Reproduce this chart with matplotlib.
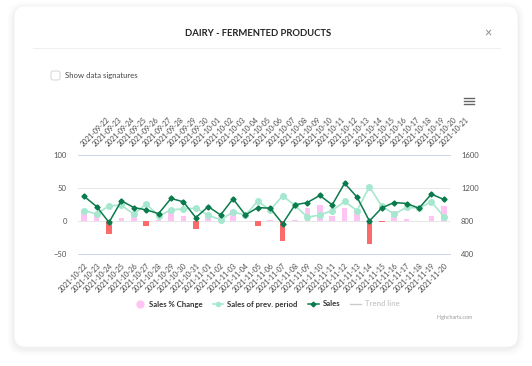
import matplotlib
matplotlib.use('Agg')
import matplotlib.pyplot as plt
from matplotlib.patches import FancyBboxPatch
from matplotlib.lines import Line2D
import numpy as np

plt.rcParams['font.family'] = ['Lato', 'DejaVu Sans']

# data
dates = ['2021-10-22', '2021-10-23', '2021-10-24', '2021-10-25', '2021-10-26', '2021-10-27',
         '2021-10-28', '2021-10-29', '2021-10-30', '2021-10-31', '2021-11-01', '2021-11-02',
         '2021-11-03', '2021-11-04', '2021-11-05', '2021-11-06', '2021-11-07', '2021-11-08',
         '2021-11-09', '2021-11-10', '2021-11-11', '2021-11-12', '2021-11-13', '2021-11-14',
         '2021-11-15', '2021-11-16', '2021-11-17', '2021-11-18', '2021-11-19', '2021-11-20']
prev_dates = ['2021-09-22', '2021-09-23', '2021-09-24', '2021-09-25', '2021-09-26', '2021-09-27',
              '2021-09-28', '2021-09-29', '2021-09-30', '2021-10-01', '2021-10-02', '2021-10-03',
              '2021-10-04', '2021-10-05', '2021-10-06', '2021-10-07', '2021-10-08', '2021-10-09',
              '2021-10-10', '2021-10-11', '2021-10-12', '2021-10-13', '2021-10-14', '2021-10-15',
              '2021-10-16', '2021-10-17', '2021-10-18', '2021-10-19', '2021-10-20', '2021-10-21']
pct_change = [17, 12, -19, 4, 9, -8, 2, 13, 8, -12, 8, 6, 16, 0, -8, 1.5, -31, 1,
              20, 25, 7, 20, 17, -35, -2, 15, 3, 0, 8, 23]
sales_prev = [926, 886, 984, 992, 882, 1008, 861, 935, 947, 955, 873, 812, 910, 873, 1041,
              931, 1106, 988, 845, 873, 926, 1037, 926, 1216, 980, 882, 967, 955, 1033, 853]
sales = [1098, 975, 784, 1045, 963, 935, 890, 1073, 1033, 841, 975, 873, 1069, 873, 963,
         955, 767, 996, 1024, 1110, 996, 1257, 1090, 800, 959, 1024, 1012, 955, 1126, 1061]

W, H = 532, 366
PINK = '#ffc4f4'
RED = '#fb6b6b'
LIGHT = '#a6e8cf'
DARK = '#0b7a4c'

fig = plt.figure(figsize=(W / 100, H / 100), dpi=100)
fig.patch.set_facecolor('white')

def px(x, y):
    # pixel (from top-left) -> figure fraction
    return x / W, 1 - y / H

# card with soft shadow
for i, a in enumerate([0.012, 0.012, 0.015, 0.02]):
    g = 6 - i * 1.5
    x0, y1 = px(14 - g, 347 + g + 2)
    x1, y0 = px(518 + g, 6 - g + 2)
    fig.patches.append(FancyBboxPatch((x0, y1), x1 - x0, y0 - y1,
                                      boxstyle='round,pad=0,rounding_size=0.03',
                                      transform=fig.transFigure, fc='black', ec='none',
                                      alpha=a, zorder=0, mutation_aspect=W / H))
x0, y1 = px(14, 347)
x1, y0 = px(518, 6)
fig.patches.append(FancyBboxPatch((x0, y1), x1 - x0, y0 - y1,
                                  boxstyle='round,pad=0,rounding_size=0.022',
                                  transform=fig.transFigure, fc='white', ec='#f2f2f2', lw=0.5,
                                  zorder=1, mutation_aspect=W / H))

# header
fig.text(*px(258, 33), 'DAIRY - FERMENTED PRODUCTS', ha='center', va='center',
         fontsize=6.8, fontweight='bold', color='#222222', zorder=3)
fig.text(*px(488, 33), '\u00d7', ha='center', va='center', fontsize=9, color='#888888', zorder=3)
fig.lines.append(Line2D([33 / W, 500 / W], [1 - 48 / H, 1 - 48 / H], transform=fig.transFigure,
                        color='#eeeeee', lw=0.6, zorder=3))

# checkbox
cx, cy = px(51, 80)
fig.patches.append(FancyBboxPatch((cx, cy), 9 / W, 9 / H, boxstyle='round,pad=0,rounding_size=0.004',
                                  transform=fig.transFigure, fc='white', ec='#cfcfcf', lw=0.6,
                                  zorder=3, mutation_aspect=W / H))
fig.text(*px(65, 75.5), 'Show data signatures', ha='left', va='center', fontsize=5.6,
         color='#444444', zorder=3)

# menu icon
for yy in [98, 101, 104]:
    fig.lines.append(Line2D([464 / W, 474 / W], [1 - yy / H, 1 - yy / H], transform=fig.transFigure,
                            color='#666666', lw=1.0, zorder=3))

# plot area
left, right, top, bottom = 78, 450, 155, 254
ax = fig.add_axes([left / W, 1 - bottom / H, (right - left) / W, (bottom - top) / H])
ax.set_zorder(4)
ax.patch.set_alpha(0)
x = np.arange(len(dates))

bar_colors = [PINK if v >= 0 else RED for v in pct_change]
ax.bar(x, pct_change, width=0.46, color=bar_colors, zorder=2)
ax.set_ylim(-50, 100)
ax.set_yticks([-50, 0, 50, 100])
ax.set_xlim(-0.5, len(dates) - 0.5)
ax.grid(axis='y', color='#e6e6e6', lw=0.7, zorder=0)
ax.tick_params(axis='y', length=0, labelsize=5.5, labelcolor='#555555', pad=8)
ax.set_xticks(x)
ax.set_xticklabels(dates, rotation=45, ha='right', va='top', rotation_mode='anchor',
                   fontsize=5.0, color='#444444')
ax.tick_params(axis='x', length=0, pad=5.5)
for s in ['left', 'right', 'top']:
    ax.spines[s].set_visible(False)
ax.spines['bottom'].set_color('#ccd6eb')
ax.spines['bottom'].set_linewidth(0.7)

# right axis for sales values
ax2 = ax.twinx()
ax2.plot(x, sales_prev, color=LIGHT, lw=1.2, marker='o', ms=4, zorder=3)
ax2.plot(x, sales, color=DARK, lw=1.1, marker='D', ms=2.6, zorder=4)
ax2.set_ylim(400, 1600)
ax2.set_yticks([400, 800, 1200, 1600])
ax2.tick_params(axis='y', length=0, labelsize=5.5, labelcolor='#555555', pad=8)
for s in ['left', 'right', 'bottom', 'top']:
    ax2.spines[s].set_visible(False)

# top axis with previous period dates
ax3 = ax.twiny()
ax3.set_xlim(ax.get_xlim())
ax3.set_xticks(x)
ax3.set_xticklabels(prev_dates, rotation=45, ha='left', va='bottom', rotation_mode='anchor',
                    fontsize=5.0, color='#444444')
ax3.tick_params(axis='x', length=0, pad=5)
for s in ['left', 'right', 'bottom']:
    ax3.spines[s].set_visible(False)
ax3.spines['top'].set_color('#ccd6eb')
ax3.spines['top'].set_linewidth(0.7)

# legend
handles = [
    Line2D([], [], ls='none', marker='o', ms=5, color=PINK),
    Line2D([], [], color=LIGHT, lw=1.2, marker='o', ms=3),
    Line2D([], [], color=DARK, lw=1.1, marker='D', ms=2.4),
    Line2D([], [], color='#cccccc', lw=1.0),
]
labels = ['Sales % Change', 'Sales of prev. period', 'Sales', 'Trend line']
leg = fig.legend(handles, labels, loc='center', bbox_to_anchor=px(267, 304), ncol=4,
                 frameon=False, handlelength=1.4, handletextpad=0.5,
                 columnspacing=1.3, prop={'weight': 'bold', 'size': 5.6})
for t in leg.get_texts()[:3]:
    t.set_color('#333333')
leg.get_texts()[3].set_color('#cccccc')

fig.text(*px(455, 317), 'Highcharts.com', ha='center', va='center', fontsize=3.8,
         color='#999999', zorder=3)

plt.savefig('out.png', dpi=100)
